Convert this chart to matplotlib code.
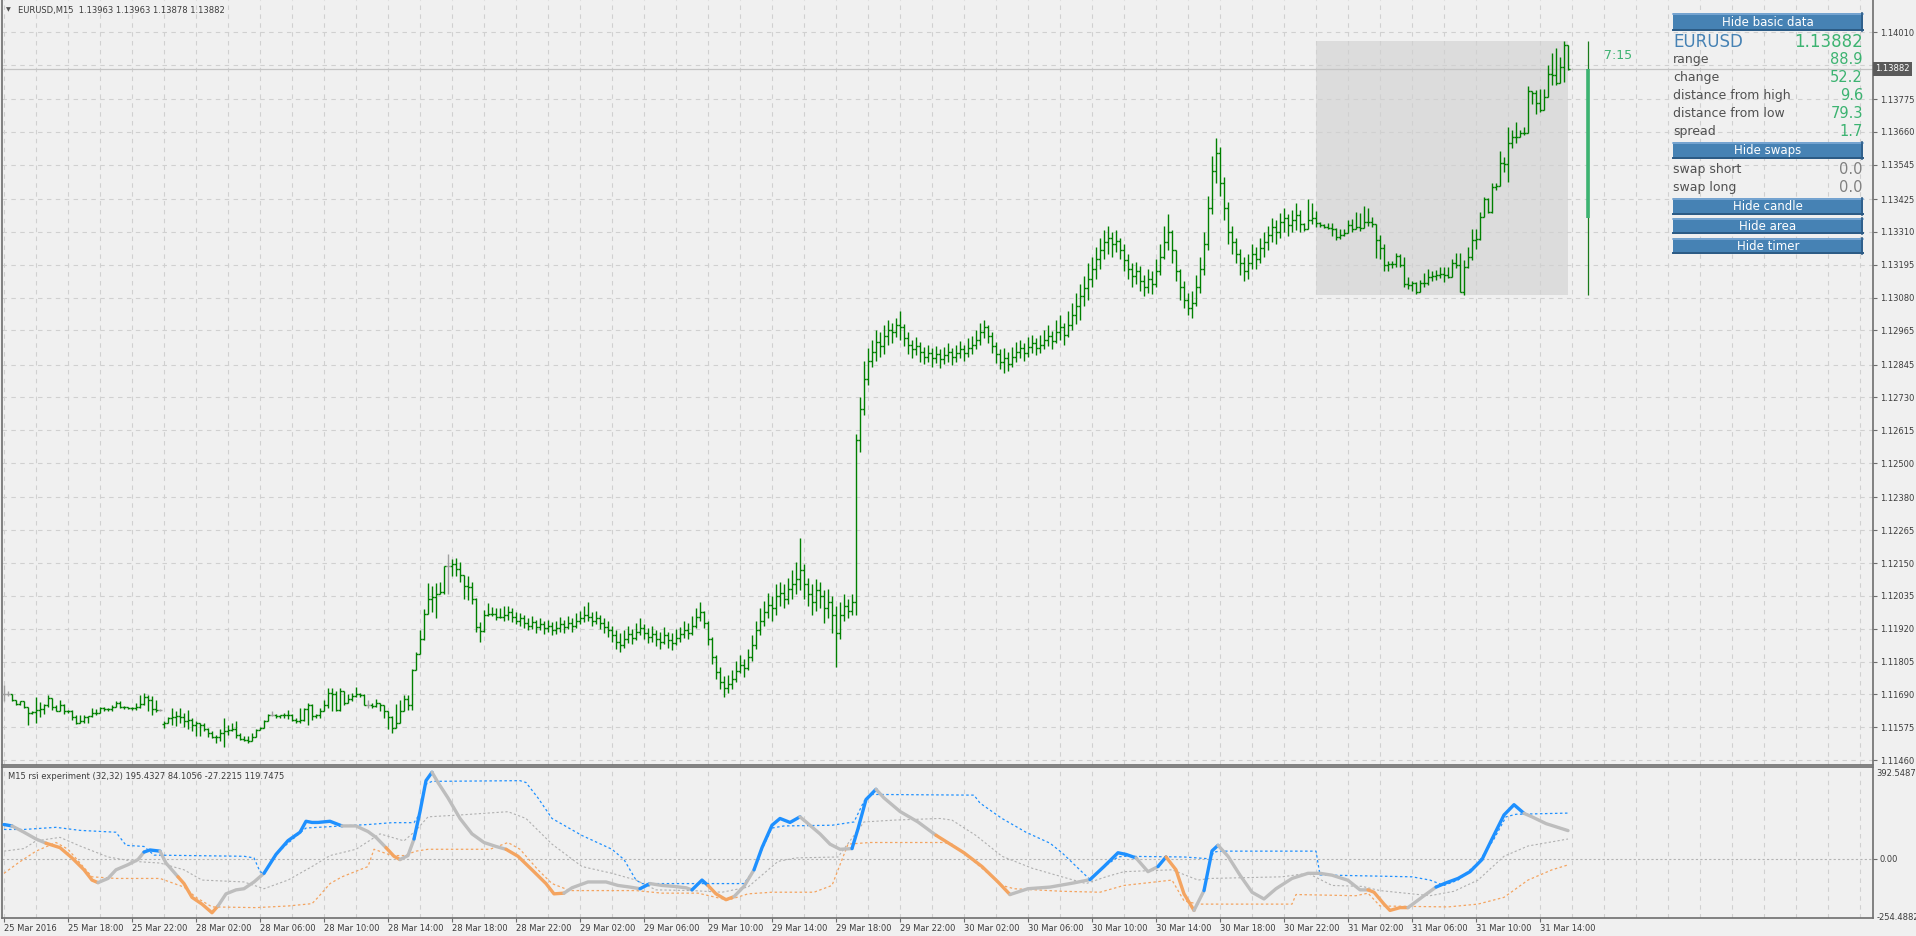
import numpy as np
import matplotlib.pyplot as plt
from matplotlib.patches import Rectangle
from matplotlib.transforms import blended_transform_factory

W, H = 1916, 936
plt.rcParams['font.family'] = ['DejaVu Sans']

BG = '#F0F0F0'
GRID = '#D0D0D0'
FRAME = '#6E6E6E'
TXT = '#3C3C3C'
BAR_GREEN = '#008000'
DOJI = '#A0A0A0'
BLUE = '#1E90FF'
ORANGE = '#F4A460'
SILVER = '#BDBDBD'
SEA = '#3CB371'
STEEL = '#4682B4'

# ---------------- data ----------------
title_text = 'EURUSD,M15  1.13963 1.13963 1.13878 1.13882'
ind_title = 'M15 rsi experiment (32,32) 195.4327 84.1056 -27.2215 119.7475'

time_labels = ['25 Mar 2016', '25 Mar 18:00', '25 Mar 22:00', '28 Mar 02:00', '28 Mar 06:00',
               '28 Mar 10:00', '28 Mar 14:00', '28 Mar 18:00', '28 Mar 22:00', '29 Mar 02:00',
               '29 Mar 06:00', '29 Mar 10:00', '29 Mar 14:00', '29 Mar 18:00', '29 Mar 22:00',
               '30 Mar 02:00', '30 Mar 06:00', '30 Mar 10:00', '30 Mar 14:00', '30 Mar 18:00',
               '30 Mar 22:00', '31 Mar 02:00', '31 Mar 06:00', '31 Mar 10:00', '31 Mar 14:00']
price_ticks = [1.14010, 1.13895, 1.13775, 1.13660, 1.13545, 1.13425, 1.13310, 1.13195,
               1.13080, 1.12965, 1.12845, 1.12730, 1.12615, 1.12500, 1.12380, 1.12265,
               1.12150, 1.12035, 1.11920, 1.11805, 1.11690, 1.11575, 1.11460]

# M15 bars, prices in points above 1.11000; open = previous close
a_close = [692, 692, 671, 655, 665, 645, 626, 628, 636, 638,
           653, 676, 647, 633, 653, 632, 630, 610, 591, 595,
           612, 613, 624, 626, 641, 638, 637, 647, 661, 647,
           644, 641, 642, 647, 657, 682, 671, 638, 636, 636,
           591, 606, 612, 615, 612, 595, 600, 583, 589, 583,
           570, 556, 542, 540, 556, 560, 566, 568, 548, 533,
           530, 528, 542, 566, 571, 597, 618, 618, 615, 616,
           618, 619, 600, 598, 600, 638, 653, 615, 617, 633,
           653, 694, 692, 636, 700, 659, 673, 685, 692, 688,
           653, 653, 650, 659, 651, 630, 612, 571, 589, 632,
           673, 653, 776, 830, 883, 972, 1023, 1030, 1040, 1047,
           1140, 1140, 1147, 1128, 1108, 1068, 1066, 1023, 925, 913,
           968, 972, 970, 962, 960]
a_high = [723, 700, 692, 671, 668, 666, 647, 633, 679, 662,
          655, 688, 676, 653, 671, 657, 636, 636, 618, 619,
          619, 615, 641, 638, 647, 644, 641, 653, 667, 665,
          650, 647, 647, 659, 688, 694, 688, 685, 671, 638,
          595, 612, 641, 633, 641, 626, 636, 606, 595, 591,
          591, 572, 563, 548, 568, 606, 583, 589, 595, 554,
          544, 544, 554, 568, 577, 600, 622, 630, 622, 618,
          624, 636, 620, 606, 641, 641, 659, 657, 622, 641,
          671, 711, 711, 700, 711, 700, 692, 696, 717, 694,
          690, 671, 659, 673, 659, 652, 632, 614, 657, 671,
          688, 688, 780, 840, 916, 988, 1079, 1068, 1079, 1082,
          1140, 1182, 1163, 1167, 1155, 1108, 1103, 1085, 1027, 945,
          986, 1011, 997, 992, 994]
a_low = [668, 685, 665, 651, 653, 641, 581, 621, 589, 612,
         621, 644, 636, 630, 630, 621, 624, 600, 586, 589,
         591, 589, 610, 618, 626, 633, 633, 633, 647, 641,
         638, 638, 636, 636, 641, 653, 633, 618, 627, 633,
         571, 589, 583, 580, 591, 577, 568, 560, 544, 544,
         560, 542, 536, 519, 525, 507, 548, 560, 536, 530,
         525, 521, 528, 542, 566, 571, 595, 615, 606, 606,
         606, 603, 595, 589, 589, 598, 583, 600, 606, 606,
         633, 641, 630, 630, 633, 653, 659, 665, 680, 682,
         651, 641, 641, 647, 630, 606, 568, 556, 571, 630,
         630, 636, 636, 776, 830, 880, 972, 980, 957, 1040,
         1042, 1042, 1103, 1103, 1085, 1023, 1021, 1007, 910, 875,
         910, 965, 965, 951, 957]

b_start = 125
b_close = [969, 978, 961, 948, 957, 939, 931, 944, 927, 935,
           922, 931, 914, 922, 935, 927, 939, 931, 948, 957,
           969, 961, 948, 957, 939, 927, 914, 897, 875, 862,
           884, 901, 888, 910, 922, 905, 892, 901, 884, 875,
           897, 880, 871, 888, 901, 914, 905, 931, 961, 978,
           939, 884, 820, 768, 734, 712, 725, 742, 772, 794,
           781, 820, 862, 914, 948, 978, 1004, 991, 1034, 1046,
           1025, 1059, 1076, 1094, 1124, 1076, 1042, 1012, 1055, 1034,
           991, 1012, 969, 905, 969, 999, 982, 1012, 1581, 1688,
           1795, 1859, 1889, 1924, 1911, 1945, 1966, 1958, 1984, 1975,
           1937, 1915, 1898, 1911, 1889, 1872, 1885, 1868, 1881, 1864,
           1877, 1889, 1872, 1885, 1898, 1885, 1902, 1915, 1932, 1958,
           1975, 1945, 1911, 1881, 1855, 1868, 1846, 1872, 1889, 1902,
           1885, 1906, 1919, 1902, 1915, 1932, 1945, 1928, 1958, 1975,
           1949, 1984, 2018, 2052, 2086, 2112, 2146, 2180, 2215, 2245,
           2275, 2287, 2266, 2279, 2245, 2210, 2180, 2155, 2172, 2138,
           2116, 2146, 2129, 2172, 2223, 2275, 2309, 2245, 2172, 2116,
           2073, 2043, 2061, 2116, 2180, 2266, 2394, 2523, 2587, 2480,
           2394, 2309, 2275, 2232, 2202, 2172, 2202, 2232, 2215, 2253,
           2275, 2300, 2326, 2309, 2343, 2360, 2334, 2352, 2369, 2339]
b_high = [999, 999, 991, 978, 974, 969, 957, 965, 952, 957,
          948, 952, 944, 948, 961, 952, 965, 957, 974, 982,
          999, 1012, 978, 982, 969, 957, 948, 931, 914, 905,
          914, 931, 918, 939, 957, 935, 922, 931, 914, 910,
          927, 910, 905, 918, 927, 948, 939, 965, 991, 1012,
          982, 948, 892, 828, 785, 755, 759, 777, 807, 828,
          815, 850, 897, 948, 991, 1016, 1046, 1034, 1076, 1085,
          1076, 1098, 1124, 1153, 1239, 1145, 1098, 1076, 1094, 1085,
          1055, 1059, 1034, 999, 1012, 1042, 1025, 1042, 1603, 1731,
          1859, 1902, 1932, 1966, 1958, 1984, 2001, 1992, 2009, 2031,
          1988, 1958, 1932, 1941, 1924, 1906, 1915, 1902, 1911, 1898,
          1906, 1919, 1902, 1915, 1928, 1915, 1937, 1945, 1966, 1992,
          2001, 1984, 1958, 1924, 1898, 1902, 1889, 1906, 1924, 1932,
          1919, 1941, 1949, 1937, 1949, 1966, 1984, 1962, 2001, 2018,
          1992, 2031, 2061, 2095, 2129, 2155, 2202, 2223, 2257, 2287,
          2317, 2330, 2309, 2317, 2287, 2266, 2232, 2202, 2206, 2189,
          2159, 2180, 2172, 2215, 2266, 2330, 2373, 2317, 2245, 2180,
          2138, 2095, 2103, 2159, 2223, 2309, 2437, 2574, 2638, 2608,
          2501, 2416, 2330, 2287, 2249, 2223, 2232, 2266, 2257, 2287,
          2309, 2330, 2360, 2352, 2377, 2394, 2373, 2386, 2412, 2386]
b_low = [948, 952, 944, 935, 931, 922, 914, 918, 905, 914,
         901, 910, 897, 901, 910, 905, 918, 910, 922, 935,
         944, 948, 931, 935, 918, 905, 892, 875, 850, 837,
         854, 871, 867, 880, 897, 884, 871, 875, 858, 850,
         867, 854, 845, 862, 875, 888, 884, 897, 922, 948,
         922, 862, 798, 742, 708, 682, 695, 708, 734, 764,
         751, 777, 807, 850, 897, 931, 957, 948, 969, 999,
         991, 1008, 1025, 1042, 1055, 1025, 999, 969, 982, 991,
         939, 957, 905, 785, 884, 948, 957, 969, 969, 1538,
         1667, 1774, 1838, 1859, 1872, 1881, 1915, 1919, 1941, 1932,
         1911, 1881, 1868, 1877, 1855, 1846, 1855, 1838, 1851, 1834,
         1846, 1855, 1842, 1855, 1868, 1859, 1872, 1881, 1898, 1915,
         1937, 1919, 1885, 1851, 1829, 1816, 1821, 1838, 1855, 1868,
         1859, 1872, 1885, 1877, 1885, 1898, 1911, 1898, 1919, 1932,
         1915, 1941, 1966, 1988, 2001, 2052, 2073, 2116, 2146, 2180,
         2215, 2232, 2223, 2240, 2215, 2172, 2146, 2116, 2129, 2103,
         2086, 2095, 2091, 2116, 2159, 2215, 2245, 2202, 2138, 2073,
         2043, 2018, 2009, 2052, 2095, 2159, 2245, 2373, 2480, 2437,
         2352, 2266, 2232, 2202, 2159, 2138, 2146, 2180, 2180, 2202,
         2223, 2245, 2275, 2266, 2287, 2309, 2296, 2309, 2317, 2309]

c_start = 325
c_close = [2319, 2351, 2360, 2342, 2334, 2328, 2322, 2319, 2291, 2299,
           2305, 2334, 2319, 2328, 2322, 2346, 2344, 2337, 2281, 2252,
           2194, 2196, 2197, 2225, 2194, 2127, 2124, 2130, 2100, 2130,
           2132, 2151, 2155, 2159, 2162, 2159, 2151, 2202, 2194, 2100,
           2188, 2221, 2281, 2284, 2363, 2425, 2381, 2466, 2470, 2550,
           2548, 2620, 2641, 2643, 2655, 2657, 2804, 2797, 2762, 2737,
           2781, 2863, 2860, 2830, 2889, 2963, 2882]
c_high = [2340, 2424, 2412, 2384, 2346, 2337, 2340, 2342, 2322, 2319,
          2319, 2351, 2354, 2381, 2375, 2400, 2392, 2363, 2330, 2299,
          2267, 2209, 2209, 2235, 2232, 2221, 2151, 2139, 2135, 2141,
          2165, 2179, 2174, 2176, 2188, 2188, 2186, 2214, 2235, 2235,
          2211, 2258, 2319, 2319, 2381, 2433, 2427, 2480, 2482, 2593,
          2573, 2678, 2667, 2696, 2667, 2676, 2821, 2804, 2807, 2809,
          2809, 2894, 2935, 2953, 2924, 2978, 2963]
c_low = [2314, 2342, 2337, 2328, 2326, 2322, 2319, 2295, 2281, 2284,
         2295, 2305, 2311, 2319, 2314, 2340, 2330, 2328, 2217, 2214,
         2174, 2174, 2182, 2188, 2188, 2118, 2109, 2104, 2092, 2100,
         2118, 2124, 2139, 2141, 2147, 2135, 2147, 2151, 2182, 2100,
         2089, 2182, 2211, 2249, 2281, 2363, 2375, 2375, 2457, 2486,
         2521, 2486, 2602, 2620, 2641, 2649, 2676, 2758, 2723, 2731,
         2737, 2824, 2824, 2824, 2830, 2836, 2878]
open_fix = {0: 692, 40: 585}

bid = 1.13882
day_open, day_high, day_low = 1.13360, 1.13978, 1.13089
area_first_bar = 328
timer_text = '7:15'

# indicator: main line (bar index, value, colour b/g/o per segment)
main_i = [0, 2, 5, 8, 10.5, 14, 17, 20, 22, 23.5, 26, 28, 31, 33.5, 35, 36.5, 39, 40.5, 43.5, 45,
          47, 49.5, 52, 53.5, 55.5, 58, 60, 62.5, 65, 68, 71, 74, 75.5, 77, 78.5, 81.5, 83, 84.5, 88, 91,
          93, 95.5, 97.5, 99, 101, 102.5, 104, 105.5, 107, 108.5, 111, 114, 117, 120, 123, 125.5, 128.5,
          132, 135.5, 137.5, 140, 142, 146, 150.5, 153.5, 156.5, 159, 161.5, 164.5, 167.5, 170.5, 172,
          174.5, 176, 178, 180.5, 182.5, 185, 187.5, 189.5, 192, 194, 196.5, 199, 201, 204, 206.5, 209,
          212, 213.5, 215.5, 218, 220, 224, 228.5, 233, 240, 244.5, 248.5, 251.5, 256, 261.5, 267.5,
          271.5, 275, 278.5, 280.5, 283, 286, 288.5, 290.5, 293, 295, 297.5, 300, 302, 303.5, 306, 309,
          312, 315, 318, 322, 326, 329, 332, 336, 339, 341, 342.5, 345, 346.5, 349, 351, 355, 358, 360.5,
          363.5, 366.5, 369.5, 372, 375, 377.5, 380, 382, 385.5, 391]
main_v = [146, 140, 113, 84, 66, 47, 3, -48, -92, -103, -85, -48, -26, -4, 28, 37, 32, -19, -78, -107,
          -166, -195, -232, -203, -151, -134, -129, -100, -63, 18, 77, 113, 160, 155, 155, 160, 150, 140,
          140, 116, 91, 47, 10, -4, 13, 84, 201, 334, 370, 326, 260, 172, 106, 69, 52, 40, 10, -48, -107,
          -151, -148, -125, -100, -100, -115, -122, -129, -107, -115, -119, -125, -134, -92, -115, -151,
          -176, -163, -119, -48, 47, 143, 172, 155, 179, 150, 106, 62, 40, 43, 128, 253, 297, 260, 202,
          157, 100, 25, -34, -100, -154, -129, -122, -104, -90, -34, 25, 18, 3, -56, -34, 7, -48, -151,
          -222, -137, 33, 57, 10, -71, -144, -173, -129, -85, -63, -63, -71, -93, -134, -134, -144, -195,
          -222, -210, -210, -159, -122, -104, -85, -56, -4, 84, 187, 231, 194, 179, 150, 120]
main_c = ('bgggooooog' 'ggggbbggoo' 'ooogggggbb' 'bbbbbbbggg' 'googgbbbgg'
          'gggggooooo' 'ggggggbggg' 'gbboooggbb' 'bbbgggggbb' 'bggggoooog'
          'gggbbbbggb' 'ooogbbgggg' 'ggggggggoo' 'oooggbbbbb' 'bbbgggg')

up_i = [0, 5, 13, 19, 28, 30.5, 35, 37.5, 60, 62.5, 64, 65, 68, 71, 74, 75.5, 84.5, 91, 97, 102.5,
        104, 105.5, 107, 129, 130.5, 133.5, 137, 144.5, 152, 155, 158, 159.5, 185, 187.5, 189.5, 192,
        195, 207, 212.5, 215, 217, 242.5, 244, 249.5, 255.5, 261.5, 264.5, 271.5, 275, 278.5, 280, 295,
        301.5, 302.5, 304, 328, 329, 352, 356.5, 360, 363.5, 368.5, 372.5, 375.5, 378, 391]
up_v = [125, 125, 134, 121, 113, 57, 52, 15, 10, 3, -56, -63, 20, 66, 110, 131, 140, 146, 154, 154,
        194, 319, 331, 334, 326, 260, 172, 99, 40, -4, -92, -107, -107, -48, 40, 131, 140, 143, 157, 246,
        275, 272, 238, 172, 113, 66, 25, -90, -34, 7, 10, 7, -1, 28, 32, 32, -70, -78, -92, -115, -92,
        -19, 84, 179, 190, 195]
mid_i = [0, 5, 8, 14, 19, 26, 32.5, 39, 45, 49.5, 60, 65, 71, 77, 81.5, 88, 94, 100, 103, 106, 114,
         126, 130.5, 137, 144.5, 152, 158, 163, 172, 179.5, 186, 193.5, 198, 208.5, 215, 222.5, 234,
         237, 243, 249.5, 257, 264.5, 270.5, 275.5, 280, 292, 298.5, 301.5, 319.5, 326, 332, 339.5,
         344, 356.5, 362.5, 368.5, 375, 381, 391]
mid_v = [32, 43, 76, 91, 54, 7, -12, -19, -48, -92, -100, -129, -92, -34, 13, 40, 106, 76, 121, 179,
         187, 201, 172, 62, -34, -63, -92, -134, -137, -144, -122, -12, 3, 7, 157, 165, 172, 165, 99,
         10, -41, -78, -107, -78, -56, -48, -92, -85, -78, -63, -115, -119, -137, -159, -140, -92, 10,
         54, 84]
lo_i = [0, 3.5, 8, 13, 16, 19, 22, 28, 39, 45, 48, 52, 63, 71, 77, 78.5, 81.5, 84.5, 91, 92.5, 97,
        100, 103, 106, 121.5, 126, 129, 133.5, 137, 141.5, 158, 164.5, 173.5, 178, 181, 186, 192,
        202.5, 207, 211, 216.5, 235, 237, 243, 249.5, 252.5, 264.5, 274, 280, 292, 295, 298.5, 322,
        323, 338, 341, 344, 361, 368.5, 375, 381, 387, 391]
lo_v = [-63, -19, 32, 69, 40, -19, -78, -85, -85, -122, -166, -207, -210, -203, -193, -166, -107, -78,
        -34, 40, 13, 13, 32, 40, 40, 69, 40, -48, -107, -137, -137, -148, -148, -166, -178, -151, -144,
        -144, -115, 62, 69, 69, 62, -19, -115, -129, -140, -144, -115, -92, -181, -195, -195, -154,
        -159, -148, -203, -207, -195, -166, -92, -48, -27]
ind_max, ind_min = 392.5487, -254.4882

info_labels = ['range', 'change', 'distance from high', 'distance from low', 'spread']
info_values = ['88.9', '52.2', '9.6', '79.3', '1.7']
swap_labels = ['swap short', 'swap long']
swap_values = ['0.0', '0.0']

# ---------------- build bars ----------------
n_bars = 392
close = np.full(n_bars, np.nan)
high = np.full(n_bars, np.nan)
low = np.full(n_bars, np.nan)
for start, cl, hi, lo in [(0, a_close, a_high, a_low), (b_start, b_close, b_high, b_low),
                          (c_start, c_close, c_high, c_low)]:
    close[start:start + len(cl)] = cl
    high[start:start + len(hi)] = hi
    low[start:start + len(lo)] = lo
opn = np.r_[np.nan, close[:-1]]
for k, v in open_fix.items():
    opn[k] = v
high = np.fmax(high, np.fmax(opn, close))
low = np.fmin(low, np.fmin(opn, close))
to_price = lambda x: 1.11 + np.asarray(x) / 1e5
ok = ~np.isnan(close)
idx = np.arange(n_bars)[ok]
o, h, l, c = to_price(opn[ok]), to_price(high[ok]), to_price(low[ok]), to_price(close[ok])
bar_cols = np.where(opn[ok] == close[ok], DOJI, BAR_GREEN)

# ---------------- figure ----------------
fig = plt.figure(figsize=(W / 100, H / 100), dpi=100, facecolor=BG)
ax = fig.add_axes([2 / W, 1 - 765 / H, 1871 / W, 765 / H], facecolor=BG)
ax2 = fig.add_axes([2 / W, 1 - 918 / H, 1871 / W, 151 / H], facecolor=BG)
xlim = (-0.5, 467.25)
for a in (ax, ax2):
    a.set_xlim(*xlim)
    for s in a.spines.values():
        s.set_color(FRAME)
        s.set_linewidth(1.2)
    for gx in range(0, 468, 8):
        a.axvline(gx, color=GRID, lw=0.8, ls=(0, (4, 4)), zorder=1)
ax.spines['top'].set_visible(False)
ax.set_ylim(1.114425, 1.141221)
ax2.set_ylim(ind_min, ind_max)

for p in price_ticks:
    ax.axhline(p, color=GRID, lw=0.8, ls=(0, (4, 4)), zorder=1)

# today's range area
ax.add_patch(Rectangle((area_first_bar, day_low), n_bars - 1 - area_first_bar, day_high - day_low,
                       fc='#DCDCDC', ec='none', zorder=0.5))
ax.axhline(bid, color='#C4C4C4', lw=0.9, zorder=1.5)

ax.vlines(idx, l, h, colors=bar_cols, lw=1.0, zorder=3)
ax.hlines(o, idx - 0.45, idx, colors=bar_cols, lw=1.0, zorder=3)
ax.hlines(c, idx, idx + 0.45, colors=bar_cols, lw=1.0, zorder=3)

# candle of the day + timer
ax.vlines(n_bars + 4, day_low, day_high, colors='#1A7A1A', lw=0.9, zorder=3)
ax.vlines(n_bars + 4, day_open, bid, colors=SEA, lw=2.6, zorder=3)
ax.text(n_bars + 8, 1.13929, timer_text, color=SEA, fontsize=9, va='center', ha='left')

# price axis
ax.yaxis.tick_right()
ax.set_yticks(price_ticks)
ax.set_yticklabels(['' if p == 1.13895 else f'{p:.5f}' for p in price_ticks])
ax.tick_params(axis='y', direction='out', length=3, width=0.8, color=FRAME,
               labelsize=6, labelcolor=TXT, pad=2)
ax.set_xticks([])
blend = blended_transform_factory(ax.transAxes, ax.transData)
ax.text(1.0012, bid, f'{bid:.5f}', transform=blend, fontsize=6, color='white', va='center',
        ha='left', bbox=dict(boxstyle='square,pad=0.3', fc='#5A5A5A', ec='none'), clip_on=False)

# indicator
cmap = {'b': BLUE, 'o': ORANGE, 'g': SILVER}
ax2.axhline(0, color='#B4B4B4', lw=0.8, ls=(0, (2, 2)), zorder=1)
ax2.plot(up_i, up_v, color=BLUE, lw=0.9, ls=(0, (2, 2)), zorder=2)
ax2.plot(mid_i, mid_v, color='#B0B0B0', lw=0.8, ls=(0, (2, 2)), zorder=2)
ax2.plot(lo_i, lo_v, color=ORANGE, lw=0.9, ls=(0, (2, 2)), zorder=2)
mi, mv = np.array(main_i), np.array(main_v)
k = 0
while k < len(mi) - 1:
    col = main_c[k]
    j = k
    while j < len(mi) - 1 and main_c[j] == col:
        j += 1
    ax2.plot(mi[k:j + 1], mv[k:j + 1], color=cmap[col], lw=2.4, zorder=3,
             solid_capstyle='round', solid_joinstyle='round')
    k = j

ax2.set_xticks(range(0, 16 * len(time_labels), 16))
ax2.set_xticklabels(time_labels, ha='left')
ax2.tick_params(axis='x', direction='out', length=3, width=0.8, color=FRAME,
                labelsize=6, labelcolor=TXT, pad=1.5)
ax2.yaxis.tick_right()
ax2.set_yticks([0])
ax2.set_yticklabels(['0.00'])
ax2.tick_params(axis='y', direction='out', length=3, width=0.8, color=FRAME,
                labelsize=6, labelcolor=TXT, pad=2)
ax2.text(1.002, 0.99, f'{ind_max:.4f}', transform=ax2.transAxes, fontsize=6, color=TXT,
         va='top', ha='left', clip_on=False)
ax2.text(1.002, 0.0, f'{ind_min:.4f}', transform=ax2.transAxes, fontsize=6, color=TXT,
         va='center', ha='left', clip_on=False)
ax2.text(0.003, 0.94, ind_title, transform=ax2.transAxes, fontsize=6, color=TXT, va='center')

# ---------------- overlay (pixel space) ----------------
ov = fig.add_axes([0, 0, 1, 1])
ov.set_xlim(0, W)
ov.set_ylim(H, 0)
ov.axis('off')
ov.set_zorder(5)
ov.text(6, 10, '\u25BC', fontsize=4.5, color='#505050', va='center')
ov.text(18, 10, title_text, fontsize=6, color=TXT, va='center')


def button(label, y0, hgt):
    ov.add_patch(Rectangle((1673, y0), 190, hgt, fc=STEEL, ec='none'))
    ov.plot([1673, 1863], [y0 + 0.6, y0 + 0.6], color='#7EAAD6', lw=1.2)
    ov.plot([1673, 1863], [y0 + hgt - 0.7, y0 + hgt - 0.7], color='#2C5A84', lw=1.4)
    ov.plot([1862.3, 1862.3], [y0, y0 + hgt], color='#2C5A84', lw=1.2)
    ov.text(1768, y0 + hgt / 2, label, color='white', fontsize=8.5, ha='center', va='center')


button('Hide basic data', 13, 18)
ov.text(1673, 42, 'EURUSD', color=STEEL, fontsize=12, va='center')
ov.text(1863, 42, f'{bid:.5f}', color=SEA, fontsize=12, va='center', ha='right')
for k, (lab, val) in enumerate(zip(info_labels, info_values)):
    y = 60 + k * 17.8
    ov.text(1673, y, lab, color='#505050', fontsize=9, va='center')
    ov.text(1863, y, val, color=SEA, fontsize=10.5, va='center', ha='right')
button('Hide swaps', 142, 17)
for k, (lab, val) in enumerate(zip(swap_labels, swap_values)):
    y = 170 + k * 18
    ov.text(1673, y, lab, color='#505050', fontsize=9, va='center')
    ov.text(1863, y, val, color='#808080', fontsize=10.5, va='center', ha='right')
button('Hide candle', 198, 17)
button('Hide area', 218, 16)
button('Hide timer', 238, 16)

fig.savefig('out.png', dpi=100, facecolor=BG)
